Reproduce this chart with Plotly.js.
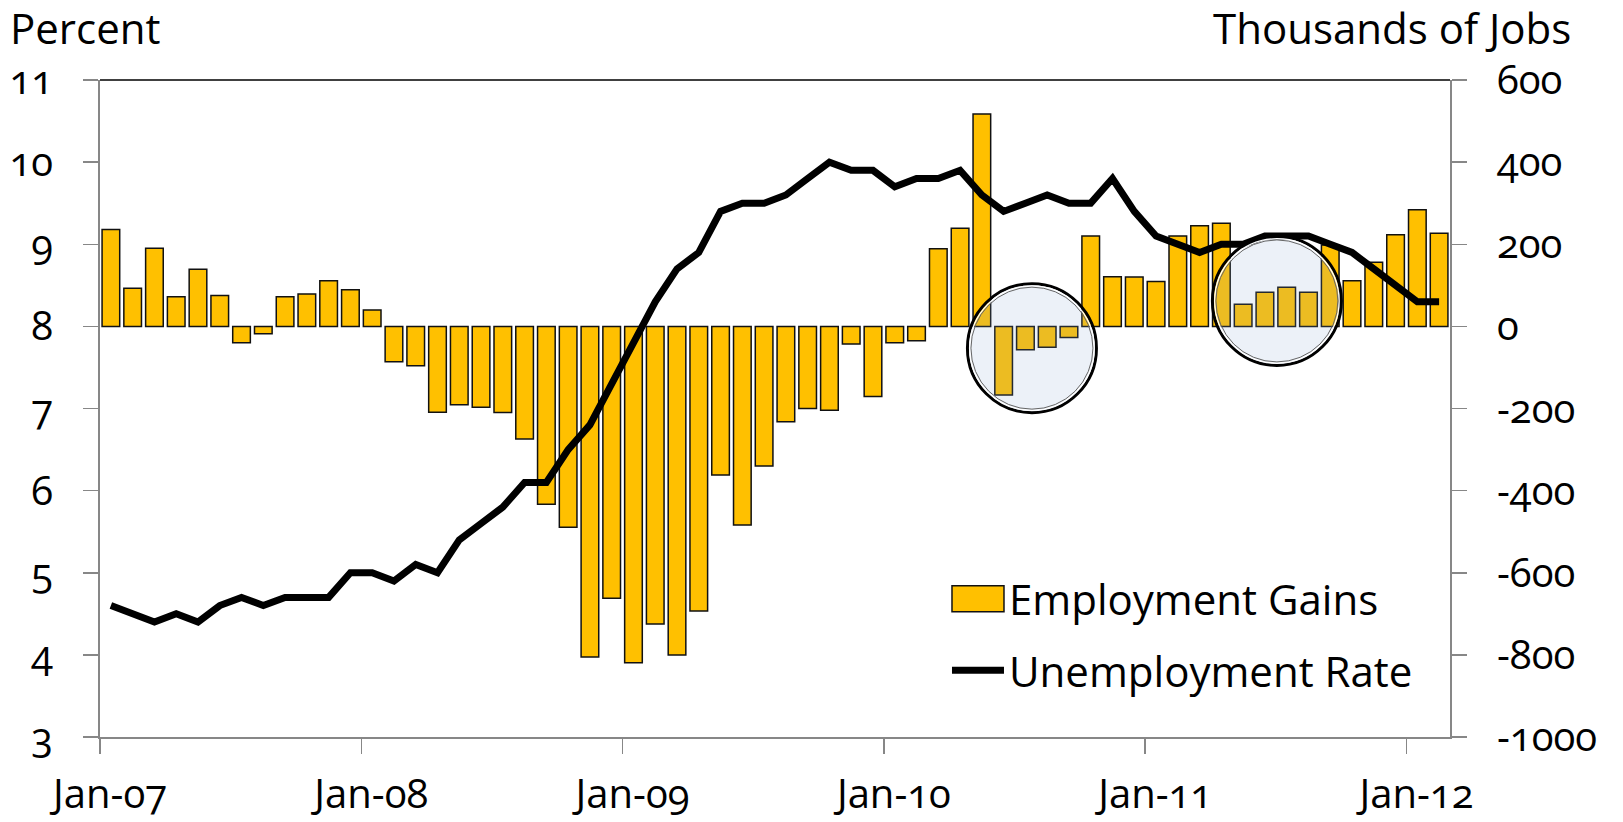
<!DOCTYPE html>
<html>
<head>
<meta charset="utf-8">
<script src="https://cdn.plot.ly/plotly-3.0.1.min.js"></script>
<style>
html, body { margin: 0; padding: 0; background: #ffffff; }
#chart { width: 1623px; height: 822px; }
.main-svg text { font-feature-settings: "onum" 1; }
</style>
</head>
<body>
<div id="chart"></div>
<script>
// ---- Data (monthly, Jan 2007 - Feb 2012) ----
const months = [
  '2007-01','2007-02','2007-03','2007-04','2007-05','2007-06','2007-07','2007-08','2007-09','2007-10','2007-11','2007-12',
  '2008-01','2008-02','2008-03','2008-04','2008-05','2008-06','2008-07','2008-08','2008-09','2008-10','2008-11','2008-12',
  '2009-01','2009-02','2009-03','2009-04','2009-05','2009-06','2009-07','2009-08','2009-09','2009-10','2009-11','2009-12',
  '2010-01','2010-02','2010-03','2010-04','2010-05','2010-06','2010-07','2010-08','2010-09','2010-10','2010-11','2010-12',
  '2011-01','2011-02','2011-03','2011-04','2011-05','2011-06','2011-07','2011-08','2011-09','2011-10','2011-11','2011-12',
  '2012-01','2012-02'
];

// Employment gains, thousands of jobs (right axis)
const employmentGains = [
  236, 93, 190, 72, 139, 75, -40, -18, 72, 79, 111, 89,
  40, -86, -96, -209, -191, -197, -210, -274, -433, -489, -805, -662,
  -819, -725, -800, -693, -362, -484, -340, -232, -200, -204, -43, -171,
  -40, -35, 189, 239, 517, -167, -57, -51, -27, 220, 121, 120,
  109, 220, 245, 251, 54, 83, 95, 83, 198, 111, 156, 223,
  284, 227
];

// Unemployment rate, percent (left axis)
const unemploymentRate = [
  4.6, 4.5, 4.4, 4.5, 4.4, 4.6, 4.7, 4.6, 4.7, 4.7, 4.7, 5.0,
  5.0, 4.9, 5.1, 5.0, 5.4, 5.6, 5.8, 6.1, 6.1, 6.5, 6.8, 7.3,
  7.8, 8.3, 8.7, 8.9, 9.4, 9.5, 9.5, 9.6, 9.8, 10.0, 9.9, 9.9,
  9.7, 9.8, 9.8, 9.9, 9.6, 9.4, 9.5, 9.6, 9.5, 9.5, 9.8, 9.4,
  9.1, 9.0, 8.9, 9.0, 9.0, 9.1, 9.1, 9.1, 9.0, 8.9, 8.7, 8.5,
  8.3, 8.3
];

const xTickLabels = ['Jan-07', 'Jan-08', 'Jan-09', 'Jan-10', 'Jan-11', 'Jan-12'];
const rateTicks = [3, 4, 5, 6, 7, 8, 9, 10, 11];
const jobTicks = [-1000, -800, -600, -400, -200, 0, 200, 400, 600];

const seriesNames = ['Employment Gains', 'Unemployment Rate'];
const axisTitles = ['Percent', 'Thousands of Jobs'];

// ---- Build chart ----
const idx = months.map((m, i) => i);
const janPositions = months.map((m, i) => (m.endsWith('-01') ? i - 0.5 : null)).filter(v => v !== null);

const FONT = '"Open Sans", Lato, sans-serif';
const GRAY = '#878787';
const TICK_SIZE = 40;

const traces = [
  {
    type: 'bar',
    x: idx,
    y: employmentGains,
    name: seriesNames[0],
    yaxis: 'y',
    legendgroup: 'g1',
    marker: { color: '#FFC000', line: { color: '#111111', width: 1.5 } },
    hoverinfo: 'skip'
  },
  {
    type: 'scatter',
    mode: 'lines',
    x: idx,
    y: unemploymentRate,
    name: seriesNames[1],
    yaxis: 'y2',
    legendgroup: 'g2',
    line: { color: '#000000', width: 7 },
    hoverinfo: 'skip'
  }
];

function ring(cx, cy, r, color, width, fill) {
  return {
    type: 'circle', xref: 'x', yref: 'y',
    xsizemode: 'pixel', ysizemode: 'pixel',
    xanchor: cx, yanchor: cy,
    x0: -r, x1: r, y0: -r, y1: r,
    line: { color: color, width: width },
    fillcolor: fill,
    layer: 'above'
  };
}
const circleFill = 'rgba(137,167,211,0.16)';
const circles = [
  { cx: 42.3, cy: -53 },
  { cx: 53.55, cy: 62 }
];
const shapes = [
  { type: 'line', xref: 'paper', yref: 'paper', x0: 0, x1: 1, y0: 1, y1: 1,
    line: { color: '#000000', width: 1.5 }, layer: 'above' }
];
circles.forEach(c => {
  shapes.push(ring(c.cx, c.cy, 64.5, '#000000', 3, circleFill));
  shapes.push(ring(c.cx, c.cy, 62.2, '#ffffff', 1.3, 'rgba(0,0,0,0)'));
  shapes.push(ring(c.cx, c.cy, 61, '#666666', 1, 'rgba(0,0,0,0)'));
});

const axisCommon = {
  ticks: 'outside', ticklen: 15, tickwidth: 1.5, tickcolor: GRAY,
  showline: true, linecolor: GRAY, linewidth: 2,
  showgrid: false, zeroline: false, fixedrange: true
};

const layout = {
  width: 1623, height: 822,
  margin: { l: 100, r: 173, t: 80, b: 85 },
  paper_bgcolor: '#ffffff', plot_bgcolor: '#ffffff',
  font: { family: FONT, size: TICK_SIZE, color: '#000000' },
  showlegend: true,
  bargap: 0.19,
  xaxis: Object.assign({}, axisCommon, {
    range: [-0.5, months.length - 0.5],
    tickmode: 'array', tickvals: janPositions, ticktext: xTickLabels,
    tickfont: { family: FONT, size: TICK_SIZE, color: '#000000' },
    ticklabelstandoff: 6, ticklabelshift: 10
  }),
  yaxis: Object.assign({}, axisCommon, {
    side: 'right', range: [-1000, 600],
    tickmode: 'array', tickvals: jobTicks, ticktext: jobTicks.map(String),
    tickfont: { family: FONT, size: TICK_SIZE, color: '#000000' },
    ticklabelstandoff: 22
  }),
  yaxis2: Object.assign({}, axisCommon, {
    overlaying: 'y', side: 'left', range: [3, 11],
    tickmode: 'array', tickvals: rateTicks, ticktext: rateTicks.map(String),
    tickfont: { family: FONT, size: TICK_SIZE, color: '#000000' },
    ticklabelstandoff: 22
  }),
  legend: {
    x: 0.6274, xanchor: 'left', y: 0.262, yanchor: 'top',
    bgcolor: 'rgba(0,0,0,0)', borderwidth: 0,
    font: { family: FONT, size: 42, color: '#000000' },
    tracegroupgap: 14, itemwidth: 52
  },
  shapes: shapes,
  annotations: [
    { xref: 'paper', yref: 'paper', x: 0, y: 1, xanchor: 'left', yanchor: 'middle',
      xshift: -92, yshift: 53, text: axisTitles[0], showarrow: false,
      font: { family: FONT, size: 42, color: '#000000' } },
    { xref: 'paper', yref: 'paper', x: 1, y: 1, xanchor: 'right', yanchor: 'middle',
      xshift: 123, yshift: 53, text: axisTitles[1], showarrow: false,
      font: { family: FONT, size: 42, color: '#000000' } }
  ]
};

Plotly.newPlot('chart', traces, layout, { displayModeBar: false, staticPlot: true }).then(gd => {
  // enlarge the bar legend swatch to the wide rectangle used in the reference
  const items = gd.querySelectorAll('.legend .traces');
  if (items.length) {
    const p = items[0].querySelector('.legendpoints path');
    if (p) p.setAttribute('d', 'M26,13H-26V-13H26Z');
  }
});
</script>
</body>
</html>
